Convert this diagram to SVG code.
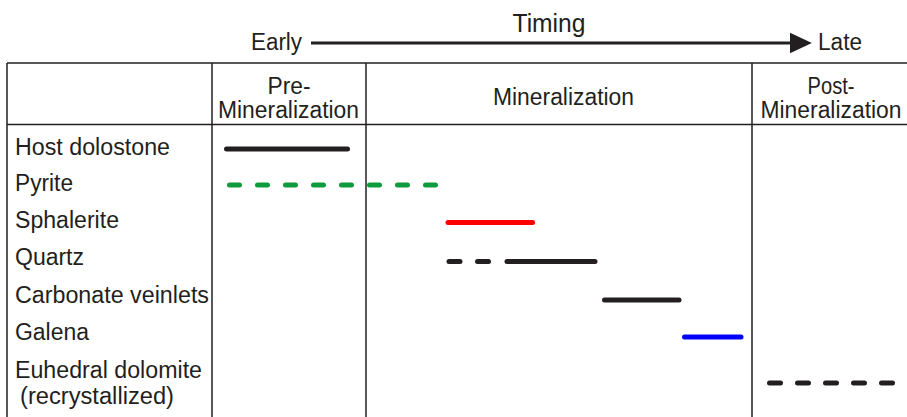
<svg xmlns="http://www.w3.org/2000/svg" width="907" height="417" viewBox="0 0 907 417">
  <style>
    text { font-family: "Liberation Sans", Arial, sans-serif; fill: #231f20; }
    .title { font-size: 25px; }
    .axis { font-size: 23px; }
    .head { font-size: 23px; text-anchor: middle; }
    .label { font-size: 23px; }
    .grid { stroke: #231f20; stroke-width: 1.5; fill: none; }
    .bar { stroke-width: 5; stroke-linecap: round; fill: none; }
    .black { stroke: #231f20; }
  </style>
  <defs>
    <marker id="arrowhead" markerWidth="8" markerHeight="8" refX="0" refY="4" orient="auto" markerUnits="strokeWidth">
      <polygon points="0,0.6 7.3,4 0,7.4" fill="#231f20"/>
    </marker>
  </defs>

  <!-- Timing axis -->
  <g id="timing">
    <text class="title" x="549" y="32" text-anchor="middle" textLength="73" lengthAdjust="spacingAndGlyphs">Timing</text>
    <text class="axis" x="251" y="50" textLength="51" lengthAdjust="spacingAndGlyphs">Early</text>
    <text class="axis" x="818" y="50" textLength="44" lengthAdjust="spacingAndGlyphs">Late</text>
    <line x1="311" y1="43" x2="790" y2="43" stroke="#231f20" stroke-width="3" marker-end="url(#arrowhead)"/>
  </g>

  <!-- Table frame -->
  <g id="table">
    <line class="grid" x1="7" y1="63" x2="907" y2="63" stroke-width="3"/>
    <line class="grid" x1="7" y1="63" x2="7" y2="417" stroke-width="2"/>
    <line class="grid" x1="7" y1="124.5" x2="907" y2="124.5"/>
    <line class="grid" x1="212" y1="63" x2="212" y2="417"/>
    <line class="grid" x1="366" y1="63" x2="366" y2="417"/>
    <line class="grid" x1="752" y1="63" x2="752" y2="417"/>
  </g>

  <!-- Stage headings -->
  <g id="stage-pre">
    <text class="head" x="289" y="94" textLength="43" lengthAdjust="spacingAndGlyphs">Pre-</text>
    <text class="head" x="288.5" y="118" textLength="141" lengthAdjust="spacingAndGlyphs">Mineralization</text>
  </g>
  <g id="stage-main">
    <text class="head" x="563.5" y="105" textLength="141" lengthAdjust="spacingAndGlyphs">Mineralization</text>
  </g>
  <g id="stage-post">
    <text class="head" x="831" y="94" textLength="47" lengthAdjust="spacingAndGlyphs">Post-</text>
    <text class="head" x="831" y="118" textLength="141" lengthAdjust="spacingAndGlyphs">Mineralization</text>
  </g>

  <!-- Phase labels -->
  <g id="labels">
    <text class="label" x="15" y="155" textLength="155" lengthAdjust="spacingAndGlyphs">Host dolostone</text>
    <text class="label" x="15" y="191" textLength="58" lengthAdjust="spacingAndGlyphs">Pyrite</text>
    <text class="label" x="15" y="228" textLength="104" lengthAdjust="spacingAndGlyphs">Sphalerite</text>
    <text class="label" x="15" y="265" textLength="69" lengthAdjust="spacingAndGlyphs">Quartz</text>
    <text class="label" x="15" y="303" textLength="194" lengthAdjust="spacingAndGlyphs">Carbonate veinlets</text>
    <text class="label" x="15" y="340" textLength="74" lengthAdjust="spacingAndGlyphs">Galena</text>
    <text class="label" x="15" y="378" textLength="187" lengthAdjust="spacingAndGlyphs">Euhedral dolomite</text>
    <text class="label" x="20" y="404" textLength="154" lengthAdjust="spacingAndGlyphs">(recrystallized)</text>
  </g>

  <!-- Paragenetic bars -->
  <g id="bars">
    <line id="host-dolostone" class="bar black" x1="226.5" y1="149" x2="347.5" y2="149"/>
    <line id="pyrite" class="bar" stroke="#0f9a3e" stroke-dasharray="10 18" x1="229.5" y1="185" x2="436" y2="185"/>
    <line id="sphalerite" class="bar" stroke="#ff0000" x1="448" y1="222.5" x2="532.5" y2="222.5"/>
    <g id="quartz">
      <line class="bar black" x1="449" y1="261.5" x2="460" y2="261.5"/>
      <line class="bar black" x1="477.5" y1="261.5" x2="488.5" y2="261.5"/>
      <line class="bar black" x1="507" y1="261.5" x2="595" y2="261.5"/>
    </g>
    <line id="carbonate-veinlets" class="bar black" x1="604.5" y1="300" x2="679" y2="300"/>
    <line id="galena" class="bar" stroke="#0000ff" x1="684.5" y1="337" x2="741" y2="337"/>
    <line id="euhedral-dolomite" class="bar black" stroke-dasharray="11 17" x1="769.5" y1="383" x2="893" y2="383"/>
  </g>
</svg>
